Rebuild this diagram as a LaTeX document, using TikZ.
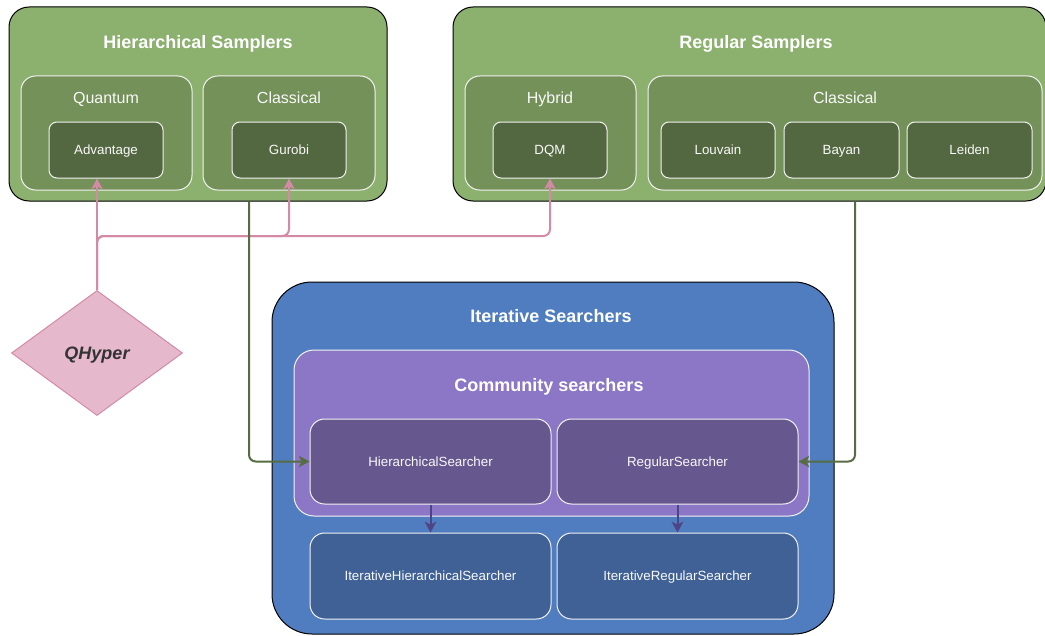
\documentclass[tikz,border=0pt]{standalone}
\usepackage{fontspec}
\setmainfont{Liberation Sans}
\usetikzlibrary{fit,shapes.geometric,arrows.meta}
\definecolor{gOuter}{HTML}{8CB06E}
\definecolor{gMid}{HTML}{739158}
\definecolor{gDark}{HTML}{536840}
\definecolor{gLine}{HTML}{566D44}
\definecolor{bOuter}{HTML}{4F7DBF}
\definecolor{pComm}{HTML}{8B77C6}
\definecolor{pSearch}{HTML}{66578F}
\definecolor{bIter}{HTML}{3F6195}
\definecolor{pArrow}{HTML}{4E4384}
\definecolor{pinkFill}{HTML}{E6B8CC}
\definecolor{pinkLine}{HTML}{D48AA6}
\definecolor{txtDark}{HTML}{333333}
\tikzset{
  outerbox/.style={draw=black, line width=0.75pt, inner sep=0pt},
  whitebox/.style={draw=white!90!gray, line width=0.75pt, inner sep=0pt},
  titletxt/.style={font=\fontsize{13.5}{16}\selectfont\bfseries, text=white, text height=9.67pt, text depth=0pt, inner sep=0pt},
  midtxt/.style={font=\fontsize{12}{14}\selectfont, text=white!95!gray, text height=8.6pt, text depth=0pt, inner sep=0pt},
  smalltxt/.style={font=\fontsize{10}{12}\selectfont, text=white!95!gray, text height=7.16pt, text depth=0pt, inner sep=0pt},
  tip/.style={-{Stealth[length=8pt,width=8.5pt,inset=2pt]}},
  pinkarrow/.style={tip, draw=pinkLine, line width=1.5pt, rounded corners=5pt},
  greenarrow/.style={tip, draw=gLine, line width=1.5pt, rounded corners=5pt},
  purplearrow/.style={tip, draw=pArrow, line width=1.5pt},
}
\begin{document}
\begin{tikzpicture}[x=0.75pt,y=-0.75pt]
\useasboundingbox (0,0) rectangle (1045,635);
% ---------------- Hierarchical Samplers
\node[outerbox, fill=gOuter, rounded corners=15pt, fit={(9,7) (387,201)}] (hsamp) {};
\node[titletxt] (hsampT) at (198,42) {Hierarchical Samplers};
\node[whitebox, fill=gMid, rounded corners=11pt, fit={(21,76) (192,190)}] (quant) {};
\node[midtxt] (quantT) at (106,98) {Quantum};
\node[whitebox, fill=gMid, rounded corners=11pt, fit={(203,76) (375,190)}] (hclass) {};
\node[midtxt] (hclassT) at (289,98) {Classical};
\node[whitebox, fill=gDark, rounded corners=6pt, fit={(49,122) (163,178)}] (adv) {};
\node[smalltxt] (advT) at (adv.center) {Advantage};
\node[whitebox, fill=gDark, rounded corners=6pt, fit={(232,122) (346,178)}] (gur) {};
\node[smalltxt] (gurT) at (gur.center) {Gurobi};
% ---------------- Regular Samplers
\node[outerbox, fill=gOuter, rounded corners=15pt, fit={(453,7) (1046,201)}] (rsamp) {};
\node[titletxt] (rsampT) at (756,42) {Regular Samplers};
\node[whitebox, fill=gMid, rounded corners=11pt, fit={(465,76) (636,190)}] (hyb) {};
\node[midtxt] (hybT) at (550,98) {Hybrid};
\node[whitebox, fill=gMid, rounded corners=11pt, fit={(648,76) (1042,190)}] (rclass) {};
\node[midtxt] (rclassT) at (845,98) {Classical};
\node[whitebox, fill=gDark, rounded corners=6pt, fit={(493,122) (607,178)}] (dqm) {};
\node[smalltxt] (dqmT) at (dqm.center) {DQM};
\node[whitebox, fill=gDark, rounded corners=6pt, fit={(661,122) (775,178)}] (louv) {};
\node[smalltxt] (louvT) at (louv.center) {Louvain};
\node[whitebox, fill=gDark, rounded corners=6pt, fit={(784,122) (899,178)}] (bay) {};
\node[smalltxt] (bayT) at (bay.center) {Bayan};
\node[whitebox, fill=gDark, rounded corners=6pt, fit={(907,122) (1032,178)}] (lei) {};
\node[smalltxt] (leiT) at (lei.center) {Leiden};
% ---------------- Iterative Searchers
\node[outerbox, fill=bOuter, rounded corners=30pt, fit={(272,282) (834,634)}] (iter) {};
\node[titletxt] (iterT) at (551,316) {Iterative Searchers};
\node[whitebox, fill=pComm, rounded corners=15pt, fit={(294,350) (809,516)}] (comm) {};
\node[titletxt] (commT) at (549,385) {Community searchers};
\node[whitebox, fill=pSearch, rounded corners=11pt, fit={(310,419) (551,504)}] (hsearch) {};
\node[smalltxt] (hsearchT) at (hsearch.center) {HierarchicalSearcher};
\node[whitebox, fill=pSearch, rounded corners=11pt, fit={(557,419) (798,504)}] (rsearch) {};
\node[smalltxt] (rsearchT) at (rsearch.center) {RegularSearcher};
\node[whitebox, fill=bIter, rounded corners=11pt, fit={(310,533) (551,619)}] (ihs) {};
\node[smalltxt] (ihsT) at (ihs.center) {IterativeHierarchicalSearcher};
\node[whitebox, fill=bIter, rounded corners=11pt, fit={(557,533) (798,619)}] (irs) {};
\node[smalltxt] (irsT) at (irs.center) {IterativeRegularSearcher};
% ---------------- QHyper
\node[diamond, draw=pinkLine, fill=pinkFill, line width=0.75pt, inner sep=0pt,
      minimum width=128.25pt, minimum height=93.75pt, text height=9.67pt, text depth=0pt,
      font=\fontsize{13.5}{16}\selectfont\bfseries\itshape, text=txtDark] (qh) at (97,353) {QHyper};
% ---------------- connectors
\coordinate (pj) at (97,236);
\coordinate (gx1) at (249,0);
\coordinate (gx2) at (855,0);
\draw[pinkarrow] (qh.north) -- (adv.south -| qh.north);
\draw[pinkarrow] (qh.north) -- (pj) -| (gur.south);
\draw[pinkarrow] (qh.north) -- (pj) -| (dqm.south);
\draw[greenarrow] (hsamp.south -| gx1) |- (hsearch.west);
\draw[greenarrow] (rsamp.south -| gx2) |- (rsearch.east);
\draw[purplearrow] (hsearch.south) -- (ihs.north);
\draw[purplearrow] (rsearch.south) -- (irs.north);
\end{tikzpicture}
\end{document}
